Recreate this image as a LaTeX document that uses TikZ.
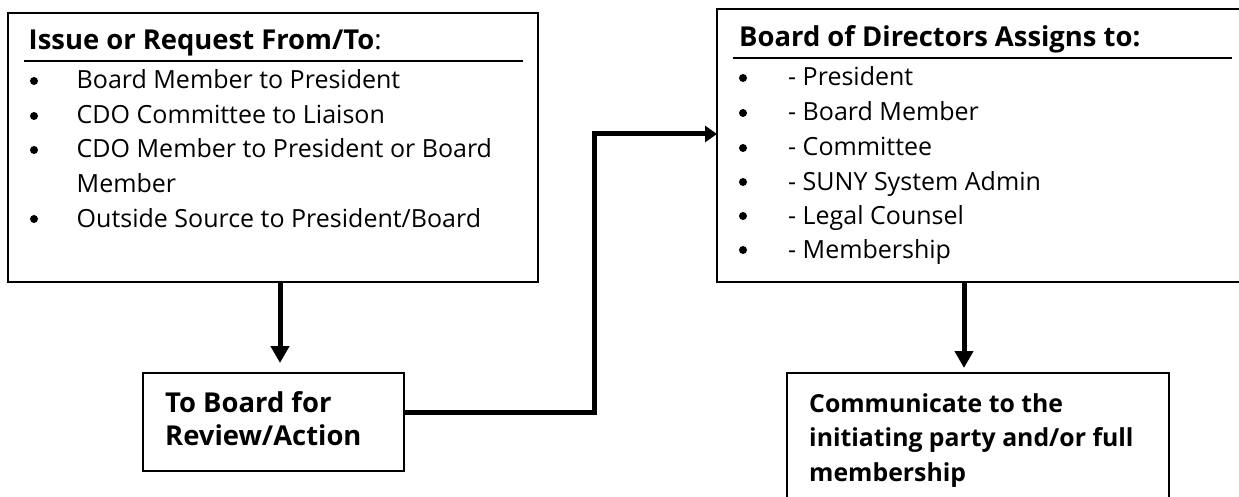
\documentclass[tikz,border=0pt]{standalone}
\usepackage{fontspec}
\setmainfont{Open Sans}
\usetikzlibrary{arrows.meta}
\begin{document}
\begin{tikzpicture}[x=1pt,y=1pt,
  box/.style={draw, line width=1.8pt, rectangle, anchor=north west, inner sep=0pt, outer sep=0pt},
  txt/.style={anchor=base west, inner sep=0pt, font=\fontsize{25}{30}\selectfont},
  htxt/.style={anchor=base west, inner sep=0pt, font=\fontsize{27.4}{32}\selectfont\bfseries},
  btxt/.style={anchor=base west, inner sep=0pt, font=\fontsize{24.8}{30}\selectfont\bfseries},
  bul/.style={circle, fill=black, inner sep=0pt, minimum size=8pt},
  conn/.style={line width=5pt, -{Triangle[length=17pt,width=18pt]}},
  elbow/.style={line width=5pt, -{Triangle[length=12pt,width=16pt]}},
  hrule/.style={line width=2pt}]
\clip (0,0) rectangle (1239,-497);
\fill[white] (0,0) rectangle (1239,-497);
% boxes
\node[box, minimum width=530, minimum height=269] (b1) at (8,-13) {};
\node[box, minimum width=545, minimum height=273] (b2) at (717,-9) {};
\node[box, minimum width=261, minimum height=98] (t1) at (143,-373) {};
\node[box, minimum width=382, minimum height=140] (c1) at (787,-373) {};
% box 1 contents
\node[htxt] (h1) at (28.5,-50) {Issue or Request From/To\mdseries:};
\draw[hrule] (24,-61) -- (523,-61);
\foreach \y/\t [count=\i] in {89/{Board Member to President}, 124/{CDO Committee to Liaison}, 158/{CDO Member to President or Board}, 227/{Outside Source to President/Board}}{
  \node[bul] (p\i) at (34,-\y+8) {};
  \node[txt] (q\i) at (76.5,-\y) {\t};
}
\node[txt] (q5) at (76.5,-193) {Member};
% box 2 contents
\node[htxt] (h2) at (739,-47) {Board of Directors Assigns to:};
\draw[hrule] (733,-58) -- (1232,-58);
\foreach \y/\t [count=\i] in {86/President, 121/Board Member, 156/Committee, 190/SUNY System Admin, 224/Legal Counsel, 258/Membership}{
  \node[bul] (r\i) at (743,-\y+8) {};
  \node[txt] (s\i) at (788,-\y) {- \t};
}
% small boxes text
\node[htxt] (t1a) at (165,-412) {To Board for};
\node[htxt] (t1b) at (165,-445) {Review/Action};
\node[btxt] (c1a) at (809,-412) {Communicate to the};
\node[btxt] (c1b) at (809,-446) {initiating party and/or full};
\node[btxt] (c1c) at (809,-481) {membership};
% connectors
\coordinate (a1) at (280,0);
\coordinate (a2) at (964,0);
\coordinate (k1) at (594,-412);
\coordinate (k2) at (594,-134);
\draw[conn, shorten >=10pt] (b1.south -| a1) -- (t1.north -| a1);
\draw[conn, shorten >=5pt] (b2.south -| a2) -- (c1.north -| a2);
\draw[elbow] (t1.east |- k1) -- (k1) -- (k2) -- (b2.west |- k2);
\end{tikzpicture}
\end{document}
